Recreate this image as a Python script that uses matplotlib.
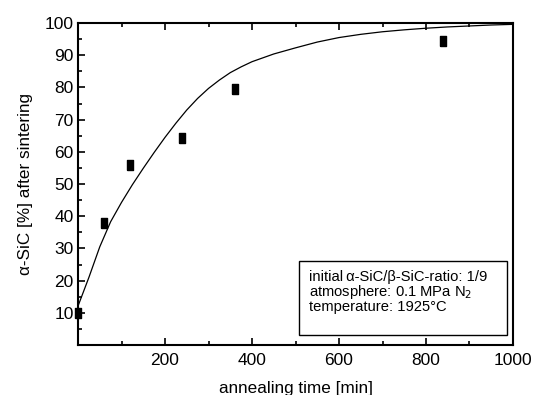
import matplotlib
matplotlib.use("Agg")
import matplotlib.pyplot as plt
from matplotlib.patches import Rectangle
from matplotlib.ticker import MultipleLocator

plt.rcParams['font.family'] = ['Liberation Sans', 'DejaVu Sans']

# measured alpha-SiC content
t_meas = [0, 60, 120, 240, 360, 840]
a_meas = [9.8, 38, 56.0, 64.2, 79.5, 94.5]

# fitted curve
t_fit = [0, 25, 50, 75, 100, 125, 150, 175, 200, 225, 250, 275, 300, 325,
         350, 375, 400, 450, 500, 550, 600, 650, 700, 750, 800, 850, 900,
         950, 1000]
a_fit = [12.1, 21.0, 30.5, 38.3, 44.3, 49.8, 54.9, 59.8, 64.5, 68.9, 73.0,
         76.6, 79.7, 82.3, 84.6, 86.4, 88.0, 90.4, 92.3, 94.1, 95.5, 96.5,
         97.3, 97.9, 98.4, 98.8, 99.1, 99.4, 99.6]

xticks = [200, 400, 600, 800, 1000]
yticks = [10, 20, 30, 40, 50, 60, 70, 80, 90, 100]

info = ["initial\u2009\u03b1-SiC/\u03b2-SiC-ratio: 1/9",
        "atmosphere: 0.1 MPa N$_2$",
        "temperature: 1925\u00b0C"]

fig = plt.figure(figsize=(5.37, 3.95), dpi=100)
ax = fig.add_axes([0.1453, 0.1266, 0.81, 0.815])

ax.plot(t_fit, a_fit, color='black', lw=0.9)
rect_marker = [(-0.6, -1), (0.6, -1), (0.6, 1), (-0.6, 1), (-0.6, -1)]
ax.plot(t_meas, a_meas, ls='none', marker=rect_marker, ms=7.8,
        color='black', clip_on=False, zorder=5)

ax.set_xlim(0, 1000)
ax.set_ylim(0, 100)
ax.set_xticks(xticks)
ax.set_yticks(yticks)
ax.xaxis.set_minor_locator(MultipleLocator(100))
ax.yaxis.set_minor_locator(MultipleLocator(5))
ax.tick_params(which='both', direction='in', top=True, right=False,
               labelsize=12.5, width=1.2)
ax.tick_params(which='major', length=5)
ax.tick_params(which='minor', length=3)
ax.tick_params(axis='x', pad=6)
ax.tick_params(axis='y', pad=3)
for s in ax.spines.values():
    s.set_linewidth(1.5)

ax.set_xlabel("annealing time [min]", fontsize=12.3)
ax.set_ylabel("\u03b1-SiC [%] after sintering", fontsize=12.3)
ax.xaxis.set_label_coords(0.5, -0.112)
ax.yaxis.set_label_coords(-0.103, 0.5)

ax.add_patch(Rectangle((508, 3.0), 478, 23.2, fill=False, lw=1.0,
                       edgecolor='black', zorder=6))
for txt, yy in zip(info, [21.2, 16.5, 11.8]):
    ax.text(531, yy, txt, fontsize=10.6, va='center', ha='left')

fig.savefig("out.png", dpi=100)
